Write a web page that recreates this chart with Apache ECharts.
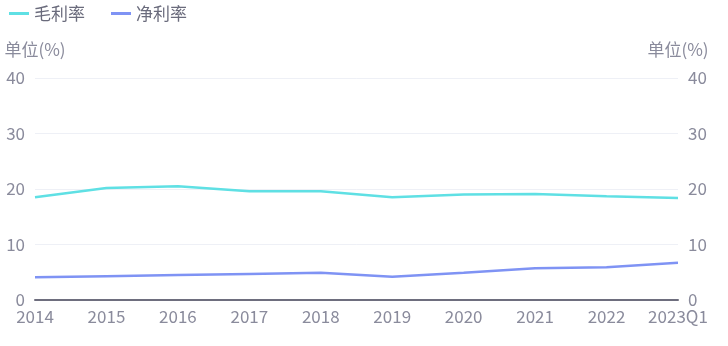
<!DOCTYPE html>
<html><head><meta charset="utf-8">
<script src="https://cdn.jsdelivr.net/npm/echarts@6/dist/echarts.min.js"></script>
<style>html,body{margin:0;padding:0;background:#fff}#c{width:728px;height:346px}</style>
</head><body><div id="c"></div>
<script>
const categories = ['2014','2015','2016','2017','2018','2019','2020','2021','2022','2023Q1'];
const grossMargin = [18.5, 20.2, 20.5, 19.6, 19.6, 18.5, 19.0, 19.1, 18.7, 18.4];
const netMargin = [4.1, 4.3, 4.5, 4.7, 4.9, 4.2, 4.9, 5.7, 5.9, 6.7];
const seriesNames = ['毛利率', '净利率'];
const axisName = '单位(%)';

const font = '"Noto Sans CJK SC", "Noto Sans", sans-serif';
const textColor = '#8a8b9c';
const chart = echarts.init(document.getElementById('c'));
const yAxisCommon = {
  type: 'value', min: 0, max: 40, interval: 10,
  name: axisName,
  nameTextStyle: { color: textColor, fontSize: 17, fontFamily: font },
  nameGap: 20,
  axisLine: { show: false }, axisTick: { show: false },
  splitLine: { lineStyle: { color: '#eef0f6', width: 1 } },
  axisLabel: { color: textColor, fontSize: 17, fontFamily: font, margin: 10 }
};
chart.setOption({
  animation: false,
  color: ['#5fe0e4', '#7f93f4'],
  legend: {
    left: 4, top: 0, itemWidth: 20, itemHeight: 10, itemGap: 26,
    icon: 'path://M0,3.5 L20,3.5 L20,6.5 L0,6.5 Z',
    textStyle: { color: '#6a6b7c', fontSize: 17, fontFamily: font },
    data: seriesNames
  },
  grid: { left: 35, right: 50, top: 78, bottom: 46 },
  xAxis: {
    type: 'category', data: categories, boundaryGap: false,
    axisLine: { lineStyle: { color: '#6e6e7e', width: 2 } },
    axisTick: { show: false },
    axisLabel: { color: textColor, fontSize: 17, fontFamily: font, margin: 8, interval: 0 }
  },
  yAxis: [
    Object.assign({}, yAxisCommon, { position: 'left' }),
    Object.assign({}, yAxisCommon, { position: 'right' })
  ],
  series: [
    { name: seriesNames[0], type: 'line', data: grossMargin, symbol: 'none', yAxisIndex: 0, lineStyle: { width: 2.5 } },
    { name: seriesNames[1], type: 'line', data: netMargin, symbol: 'none', yAxisIndex: 0, lineStyle: { width: 2.5 } }
  ]
});
</script></body></html>
